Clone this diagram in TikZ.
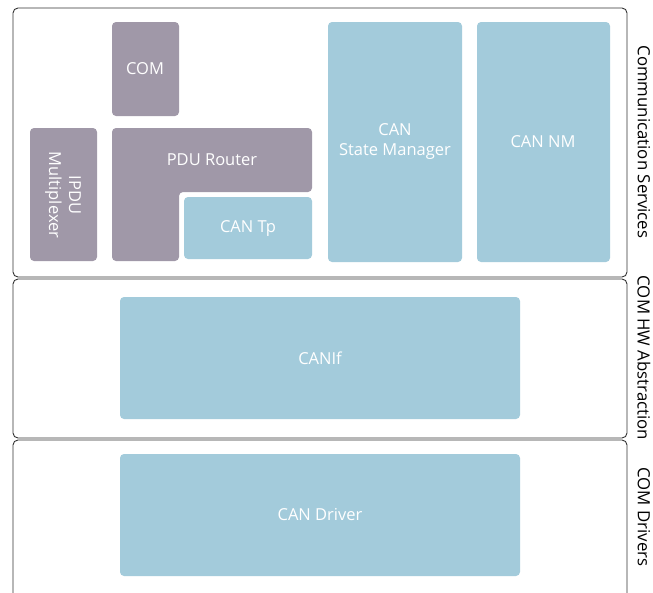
\documentclass[tikz,border=0pt]{standalone}
\usepackage{fontspec}
\setmainfont{Open Sans}
\definecolor{gp}{HTML}{A098A8}
\definecolor{lb}{HTML}{A3CBDB}
\definecolor{frm}{HTML}{333333}
\begin{document}
\begin{tikzpicture}[x=1pt,y=-1pt,
  panel/.style={draw=frm,line width=0.9pt,rounded corners=5pt},
  gbox/.style={fill=gp,rounded corners=4pt},
  bbox/.style={fill=lb,rounded corners=4pt},
  wtxt/.style={text=white,font=\fontsize{16.5}{20}\selectfont,align=center,inner sep=0pt},
  ltxt/.style={text=black,font=\fontsize{16.8}{20}\selectfont,rotate=-90,inner sep=0pt}]
\useasboundingbox (0,0) rectangle (653,592);
% panels
\draw[panel] (13,8) rectangle (627,277);
\draw[panel] (13,279) rectangle (627,438);
\draw[panel] (13,440) rectangle (627,610);
% boxes
\fill[gbox] (112,22) rectangle (179,116);
\fill[gbox] (30,128) rectangle (97,261);
\fill[gbox] (112,128) -- (312,128) -- (312,192) -- (179,192) -- (179,261) -- (112,261) -- cycle;
\fill[bbox] (184,197) rectangle (312,259);
\fill[bbox] (328,22) rectangle (462,262);
\fill[bbox] (477,22) rectangle (610,262);
\fill[bbox] (120,297) rectangle (520,419);
\fill[bbox] (120,454) rectangle (520,576);
% texts
\node[wtxt] (com) at (145,69) {COM};
\node[wtxt,rotate=-90] (ipdu) at (63,195) {IPDU\\Multiplexer};
\node[wtxt] (pdur) at (212,160) {PDU Router};
\node[wtxt] (cantp) at (248,229) {CAN Tp};
\node[wtxt] (cansm) at (395,142) {CAN\\State Manager};
\node[wtxt] (cannm) at (543,142) {CAN NM};
\node[wtxt] (canif) at (320,358) {CANIf};
\node[wtxt] (candrv) at (320,515) {CAN Driver};
\node[ltxt] (l1) at (644,142) {Communication Services};
\node[ltxt] (l2) at (644,358) {COM HW Abstraction};
\node[ltxt] (l3) at (644,517) {COM Drivers};
\end{tikzpicture}
\end{document}
